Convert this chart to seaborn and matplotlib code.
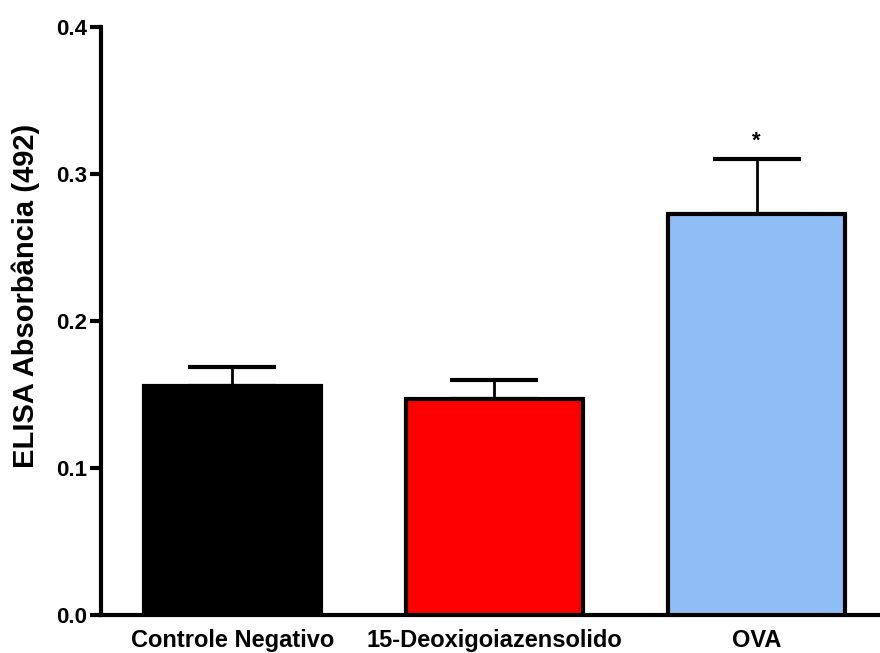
import pandas as pd
import matplotlib.pyplot as plt
import seaborn as sns

# group means and SEM
groups = ["Controle Negativo", "15-Deoxigoiazensolido", "OVA"]
means = [0.156, 0.147, 0.273]
sems = [0.013, 0.013, 0.037]
bar_colors = ["#000000", "#FF0000", "#8FBEF7"]
y_ticks = [0.0, 0.1, 0.2, 0.3, 0.4]
y_tick_labels = ["0.0", "0.1", "0.2", "0.3", "0.4"]

df = pd.DataFrame({"grupo": groups, "abs": means, "sem": sems})

sns.set_style("ticks")
plt.rcParams["font.family"] = ["Liberation Sans", "DejaVu Sans"]
plt.rcParams["font.weight"] = "bold"
for k in ["text.color", "axes.labelcolor", "xtick.color", "ytick.color", "axes.edgecolor"]:
    plt.rcParams[k] = "black"

fig = plt.figure(figsize=(8.8, 6.53), dpi=100)
ax = fig.add_axes([0.1148, 0.058, 0.885, 0.9007])

sns.barplot(data=df, x="grupo", y="abs", hue="grupo", palette=bar_colors,
            saturation=1, width=0.675, edgecolor="black", linewidth=3,
            legend=False, errorbar=None, ax=ax, zorder=3)

# one-sided error bars (upwards only)
ax.errorbar(range(len(groups)), df["abs"], yerr=[[0] * len(sems), df["sem"]],
            fmt="none", ecolor="black", elinewidth=2, capsize=32,
            capthick=3, zorder=2)

# significance marker over OVA
ax.text(2, means[2] + sems[2] + 0.005, "*", ha="center", va="bottom",
        fontsize=16, fontweight="bold")

ax.set_xlim(-0.5, 2.47)
ax.set_ylim(0, 0.4)
ax.set_yticks(y_ticks)
ax.set_yticklabels(y_tick_labels)
ax.set_xlabel("")
ax.set_ylabel("ELISA Absorbância (492)", fontsize=21, fontweight="bold")
ax.yaxis.set_label_coords(-0.078, 0.5425)
ax.tick_params(axis="y", length=8, width=3, labelsize=16, pad=2)
ax.tick_params(axis="x", length=0, labelsize=17, pad=10)
for lab in ax.get_xticklabels() + ax.get_yticklabels():
    lab.set_fontweight("bold")

sns.despine(ax=ax)
ax.spines["left"].set_linewidth(3)
ax.spines["bottom"].set_linewidth(3)

fig.savefig("out.png", dpi=100)
